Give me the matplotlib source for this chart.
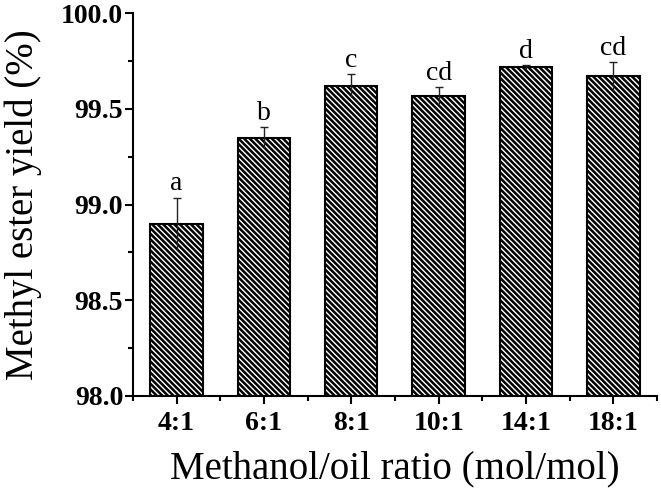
import numpy as np
import matplotlib
matplotlib.use("Agg")
import matplotlib.pyplot as plt
from matplotlib.ticker import MultipleLocator

# Data
ratios = ["4:1", "6:1", "8:1", "10:1", "14:1", "18:1"]
yield_pct = [98.90, 99.35, 99.62, 99.57, 99.72, 99.67]
yield_err = [0.135, 0.055, 0.06, 0.045, 0.01, 0.075]
groups = ["a", "b", "c", "cd", "d", "cd"]

plt.rcParams['font.family'] = ['Liberation Serif', 'DejaVu Serif']
plt.rcParams['hatch.linewidth'] = 1.8

fig = plt.figure(figsize=(6.61, 4.90), dpi=100)
ax = fig.add_axes([0.201, 0.192, 0.793, 0.781])

x = np.arange(len(ratios))
ax.bar(x, yield_pct, width=0.6, bottom=0, color='white', edgecolor='black',
       linewidth=1.5, hatch='\\' * 6, zorder=2)

eb = ax.errorbar(x, yield_pct, yerr=yield_err, fmt='none', ecolor='#222222',
                 elinewidth=1.0, capsize=2.6, capthick=1.0, zorder=3)
# only the upper cap is visible in the original
eb[1][0].set_visible(False)

for xi, v, e, g in zip(x, yield_pct, yield_err, groups):
    ax.annotate(g, (xi, v + e), xytext=(0, 1), textcoords='offset points',
                ha='center', va='bottom', fontsize=20)

ax.set_xlim(-0.5, 5.5)
ax.set_ylim(98.0, 100.0)
ax.set_xticks(x)
ax.set_xticklabels(ratios)
ax.xaxis.set_minor_locator(MultipleLocator(1, offset=0.5))
ax.yaxis.set_major_locator(MultipleLocator(0.5))
ax.yaxis.set_minor_locator(MultipleLocator(0.25))
ax.yaxis.set_major_formatter(matplotlib.ticker.FormatStrFormatter('%.1f'))

for side in ['top', 'right']:
    ax.spines[side].set_visible(False)
for side in ['left', 'bottom']:
    ax.spines[side].set_linewidth(1.5)

ax.tick_params(which='major', direction='out', length=6, width=1.5)
ax.tick_params(which='minor', direction='out', length=3.5, width=1.5)
ax.tick_params(axis='x', which='major', pad=5)
ax.tick_params(axis='y', which='major', pad=1)
for lab in ax.get_xticklabels() + ax.get_yticklabels():
    lab.set_fontweight('bold')
    lab.set_fontsize(20)

ax.set_xlabel("Methanol/oil ratio (mol/mol)", fontsize=28, labelpad=10)
ax.set_ylabel("Methyl ester yield (%)", fontsize=28, labelpad=14)

fig.savefig("out.png", dpi=100)
